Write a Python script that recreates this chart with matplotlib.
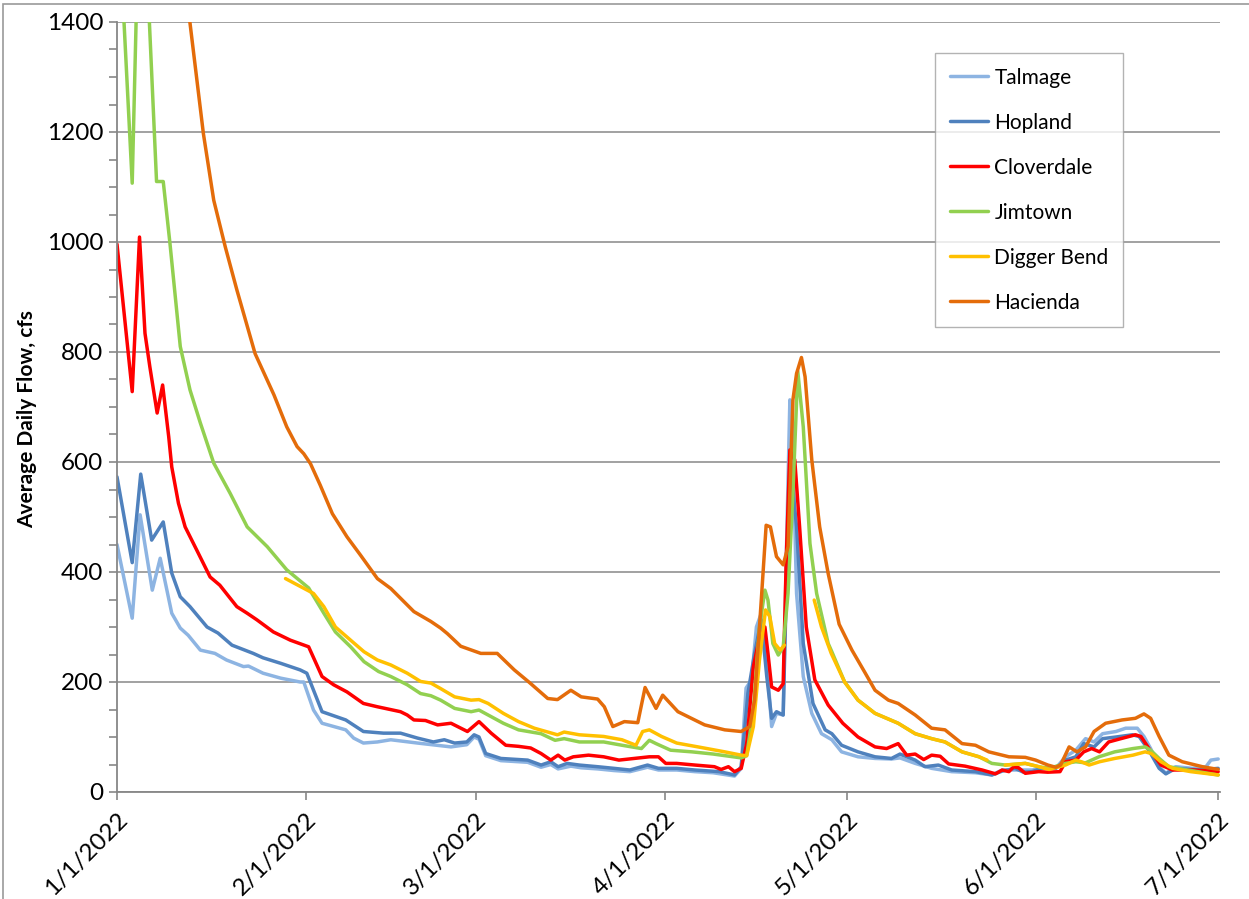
import numpy as np
import pandas as pd
import matplotlib
matplotlib.use("Agg")
import matplotlib.pyplot as plt
from matplotlib.patches import Rectangle
from matplotlib.ticker import MultipleLocator

plt.rcParams['font.family'] = ['Lato', 'DejaVu Sans']

START = pd.Timestamp('2022-01-01')

talmage_days = [0, 2.5, 3.8, 5.8, 7.1, 9, 10.4, 11.7, 13.7, 16.1, 18, 20.8, 21.6, 24, 26.9, 30.1, 30.7, 32.3, 33.7,
                37.6, 38.9, 40.5, 42.8, 45, 49.4, 54.9, 57.5, 58.7, 59.5, 60.6, 63.1, 67.5, 69.7, 71.3, 72.5, 74.6, 76.3,
                79, 81.7, 84.3, 87.2, 89, 92, 95, 98, 101.5, 102.6, 103.4, 104.3, 105.1, 105.9, 106.8, 107.6, 108.4,
                109.5, 110, 110.6, 111, 111.7, 112.8, 114.2, 115.8, 117.5, 119.1, 121.8, 124.6, 127.3, 128.7, 131.2,
                133.9, 137.2, 141.1, 143.8, 145.5, 147.6, 150.4, 152, 154.3, 155.9, 157.6, 159.2, 160.6, 162, 164.2,
                165.8, 167.7, 168.8, 169.9, 171.3, 172.4, 174, 176.8, 179, 179.8, 181]
talmage_cfs = [450, 316, 504, 367, 425, 325, 298, 285, 258, 252, 240, 228, 229, 216, 207, 200, 200, 149, 125,
               113, 98, 89, 91, 95, 89, 82, 86, 100, 96, 66, 57, 54, 45, 50, 42, 47, 44,
               42, 39, 37, 45, 40, 40, 37, 35, 29, 43, 189, 204, 300, 325, 240, 119, 143,
               140, 422, 713, 664, 361, 210, 143, 106, 95, 73, 64, 61, 60, 62, 52,
               43, 37, 35, 31, 40, 40, 40, 43, 43, 64, 76, 97, 91, 106, 110,
               116, 116, 101, 79, 46, 34, 46, 43, 46, 58, 60]

hopland_days = [0, 2.5, 3.9, 5.7, 7.6, 9, 10.4, 12, 14.8, 16.6, 18.9, 22.4, 24, 26.9, 30.1, 31.2, 33.7, 37.6, 40.5,
                43.8, 46.6, 49.4, 52, 53.8, 55.5, 57.5, 58.7, 59.5, 60.6, 63.1, 67.5, 69.7, 71.3, 72.5, 74, 76, 79,
                81.7, 84.3, 87.2, 89, 92, 95, 99, 101.5, 102.6, 103.7, 104.8, 105.9, 106.8, 107.6, 108.4, 109.5, 110,
                110.6, 111.7, 112.8, 114.4, 116.4, 117.5, 119.1, 121.8, 124.6, 127.3, 128.7, 131.2, 132.8, 135, 137.2,
                141.1, 143.8, 145.5, 147.6, 149, 150.4, 152, 154.3, 155.9, 157.6, 158.9, 160.6, 162, 164.2, 166.9, 168,
                169.6, 171.3, 172.4, 174, 178, 181]
hopland_cfs = [573, 417, 578, 458, 491, 398, 355, 337, 300, 289, 267, 252, 244, 234, 222, 216, 146, 131, 110,
               107, 107, 98, 91, 95, 89, 91, 104, 100, 70, 61, 58, 49, 55, 46, 52, 49, 46,
               43, 40, 49, 43, 43, 40, 37, 31, 46, 179, 252, 313, 210, 134, 146, 140, 361,
               605, 482, 270, 161, 113, 106, 85, 73, 64, 61, 69, 58, 46, 49, 40,
               37, 31, 38, 43, 36, 37, 43, 43, 58, 64, 88, 82, 97, 100, 104, 101,
               76, 43, 33, 43, 40, 43]

cloverdale_days = [0, 2.5, 3.7, 4.6, 5.4, 6.6, 7.5, 8.5, 9, 10.1, 11.2, 13.1, 15.3, 16.9, 19.7, 21.4, 23, 25.7, 28.5,
                   31.5, 33.7, 35.6, 37.8, 40.5, 42.8, 46.6, 47.7, 48.8, 50.7, 52.7, 54.9, 57.6, 59.5, 61.5, 63.9, 66,
                   68, 69.7, 71.3, 72.5, 73.6, 75, 77.5, 80, 82.5, 85, 87.5, 89, 90.2, 92, 95, 98.2, 99.3, 100.5, 101.5,
                   102.6, 103.5, 104.6, 105.4, 106.5, 107, 107.6, 108.7, 109.5, 110, 110.6, 111.4, 112.2, 113.3, 114.7,
                   116.9, 119.3, 121.8, 124.6, 126.5, 128.4, 129.8, 131.2, 132.6, 133.9, 135.3, 136.7, 139.4, 142.2,
                   144.4, 145.5, 146.6, 147.4, 148.2, 149.3, 151.5, 153, 155, 155.9, 157.6, 158.9, 160.2, 161.5, 163,
                   165, 167.4, 168.3, 170, 171.6, 173.5, 177, 181]
cloverdale_cfs = [996, 728, 1009, 834, 773, 689, 740, 646, 591, 525, 482, 440, 391, 376, 337, 325, 313, 291, 276,
                  264, 210, 195, 182, 161, 155, 146, 140, 131, 130, 122, 125, 110, 128, 107, 85, 83,
                  80, 70, 58, 67, 58, 64, 67, 64, 58, 61, 64, 64, 52, 52, 49, 46, 41, 46, 37,
                  43, 88, 228, 270, 300, 252, 191, 185, 197, 422, 622, 604, 482, 300, 204,
                  158, 125, 100, 82, 79, 88, 67, 69, 59, 67, 65, 51, 47, 40,
                  33, 40, 37, 46, 44, 34, 37, 36, 37, 55, 58, 73, 79, 73, 91,
                  97, 104, 101, 73, 49, 40, 40, 37]

jimtown_days = [0, 2.5, 3.9, 6.5, 7.6, 8.7, 10.4, 12, 13.7, 15.9, 18.6, 21.4, 24.7, 27.9, 31.5, 34, 35.9, 38.4, 40.6,
                43, 45, 47.7, 49.9, 51.6, 53.2, 55.5, 58.2, 59.5, 61.5, 63.5, 66, 69.7, 72, 73.5, 76, 80, 83, 86.2,
                87.5, 88.6, 91, 94.5, 98, 102.6, 103.5, 104.6, 105.6, 106.5, 107, 107.8, 108.7, 109.5, 110.3, 111.1,
                111.9, 112.8, 113.9, 115, 116.9, 117.5, 119.6, 121.8, 124.6, 128.4, 131.2, 133.9, 136.1, 138.9,
                141.7, 143.8, 146, 149.3, 151.5, 153.2, 155.9, 157.6, 159.2, 161.4, 164, 167, 169, 169.9, 171.3,
                172.9, 176, 181]
jimtown_cfs = [1650, 1107, 1750, 1110, 1110, 998, 810, 731, 671, 598, 543, 482, 446, 404, 371, 325, 291, 264, 237,
               219, 210, 195, 179, 175, 167, 152, 146, 149, 137, 125, 113, 106, 94, 97, 91, 91, 85, 79,
               94, 88, 76, 73, 69, 62, 66, 149, 300, 367, 349, 270, 249, 264, 361, 543,
               765, 664, 452, 361, 270, 255, 200, 167, 143, 125, 106, 97, 91, 73,
               64, 52, 49, 52, 46, 43, 52, 55, 53, 64, 73, 79, 82, 76, 61,
               46, 40, 31]

digger_days = [27.7, 32.3, 34, 35.9, 38.4, 40.6, 42.8, 45, 47.7, 49.9, 51.6, 53.2, 55.5, 58.2, 59.5, 61, 63.5, 66,
               68.6, 72.4, 73.5, 76, 80, 83, 85.3, 86.4, 87.5, 89.5, 92, 95.5, 99.9, 102.6, 103.5, 104.6, 105.6,
               106.6, 107.3, 108.1, 109, 109.7, 112, 114.6, 115.8, 117.4, 119.6, 121.8, 124.6, 128.4, 131.2, 133.9,
               136.1, 138.9, 141.7, 143, 144.5, 146, 149.3, 151.5, 153.2, 155.9, 157.6, 158.5, 159.8, 161.5, 164,
               167, 169, 170, 171.6, 173.5, 176.5, 181]
digger_cfs = [388, 361, 337, 300, 276, 255, 240, 231, 216, 201, 198, 188, 173, 167, 168, 161, 143, 128,
              116, 104, 109, 104, 101, 95, 85, 110, 113, 101, 89, 82, 73, 67, 66, 119, 240,
              331, 319, 270, 258, 267, np.nan, 349, 300, 252, 200, 167, 143, 125, 106, 97,
              91, 73, 64, 58, np.nan, 49, 52, 46, 41, 49, 58, 55, 49, 55, 61,
              67, 73, 70, 55, 43, 37, 31]

hacienda_days = [0, 6, 12, 14.2, 15.9, 17.8, 19.7, 22.7, 25.8, 27.9, 29.6, 30.7, 31.8, 33.4, 35.4, 37.8, 40, 42.8,
                 45, 48.8, 51.6, 53.2, 54.3, 56.5, 59.8, 62.5, 65.3, 67.8, 70.8, 72.4, 74.6, 76.3, 79, 80.1, 81.5,
                 83.4, 85.6, 86.8, 88.6, 89.7, 92.2, 94.4, 96.6, 97.7, 99.9, 102.6, 104, 104.8, 105.9, 106.7, 107.4,
                 108.4, 109.5, 110.3, 111.1, 111.7, 112.5, 113.1, 114.2, 115.5, 116.9, 118.7, 120.8, 123, 124.6,
                 126.8, 128.4, 131.2, 133.9, 136.1, 138.9, 141.1, 143.3, 146.6, 149.3, 151, 153, 154.3, 155.1, 156.5,
                 157.8, 159.2, 160.6, 162.5, 165.2, 167.4, 168.8, 169.9, 171.3, 172.9, 175.1, 178.4, 181]
hacienda_cfs = [3000, 2000, 1398, 1197, 1076, 991, 913, 797, 722, 664, 628, 615, 597, 558, 506, 464, 431, 388,
                370, 328, 310, 298, 288, 265, 252, 252, 222, 199, 170, 168, 185, 173, 169, 155, 119,
                128, 126, 190, 152, 176, 146, 134, 122, 119, 113, 110, 119, 167, 349, 485, 482,
                428, 413, 446, 713, 761, 790, 755, 604, 482, 397, 305, 258, 216, 185,
                167, 161, 140, 116, 113, 88, 85, 73, 64, 63, 58, 49, 45, 49, 82,
                73, 82, 110, 125, 131, 134, 142, 134, 101, 67, 55, 46, 41]

series_names = ['Talmage', 'Hopland', 'Cloverdale', 'Jimtown', 'Digger Bend', 'Hacienda']
series_days = [talmage_days, hopland_days, cloverdale_days, jimtown_days, digger_days, hacienda_days]
series_cfs = [talmage_cfs, hopland_cfs, cloverdale_cfs, jimtown_cfs, digger_cfs, hacienda_cfs]
colors = ['#8DB4E2', '#4F81BD', '#FF0000', '#92D050', '#FFC000', '#E46C0A']

month_ticks = ['1/1/2022', '2/1/2022', '3/1/2022', '4/1/2022', '5/1/2022', '6/1/2022', '7/1/2022']
y_ticks = [0, 200, 400, 600, 800, 1000, 1200, 1400]

fig = plt.figure(figsize=(12.49, 8.99), dpi=100)
ax = fig.add_axes([117/1249, 1 - 792/899, (1220-117)/1249, (792-22)/899])

for name, d, v, c in zip(series_names, series_days, series_cfs, colors):
    x = START + pd.to_timedelta(np.array(d, dtype=float), unit='D')
    ax.plot(x, v, color=c, lw=2.5, label=name, solid_joinstyle='round', solid_capstyle='round')

tick_dates = [pd.Timestamp(t) for t in month_ticks]
ax.set_xlim(tick_dates[0], tick_dates[-1] + pd.Timedelta(days=0.3))
ax.set_xticks(tick_dates)
ax.set_xticklabels(month_ticks, rotation=45, ha='right', rotation_mode='anchor', fontsize=17.5)
ax.set_ylim(0, 1400)
ax.set_yticks(y_ticks)
ax.set_yticklabels([str(t) for t in y_ticks], fontsize=17.5)
ax.yaxis.set_minor_locator(MultipleLocator(50))

gc = '#878787'
ax.grid(axis='y', which='major', color=gc, lw=1.1)
ax.set_axisbelow(True)
for s in ['top', 'right']:
    ax.spines[s].set_visible(False)
for s in ['left', 'bottom']:
    ax.spines[s].set_color(gc)
    ax.spines[s].set_linewidth(1.3)
ax.tick_params(axis='both', which='both', direction='out', color=gc, width=1.2, length=6)
ax.tick_params(axis='y', which='major', pad=4)
ax.tick_params(axis='x', which='major', pad=6)
ax.tick_params(axis='x', which='minor', length=0)

ax.set_ylabel('Average Daily Flow, cfs', fontsize=15, fontweight='bold')
ax.yaxis.set_label_coords(-0.072, 0.484)

leg = ax.legend(loc='upper left', bbox_to_anchor=((935-117)/1103, (792-53)/770), borderaxespad=0,
                fontsize=15, frameon=True, fancybox=False, edgecolor='#A0A0A0', handlelength=1.85,
                labelspacing=1.2, borderpad=0.7, handletextpad=0.3)
leg.get_frame().set_linewidth(1.0)

fig.patches.append(Rectangle((3/1249, -0.01), 1.0, 1 - 4/899 + 0.01, transform=fig.transFigure,
                             fill=False, edgecolor='#9A9A9A', lw=1.2))

fig.savefig('out.png', dpi=100)
